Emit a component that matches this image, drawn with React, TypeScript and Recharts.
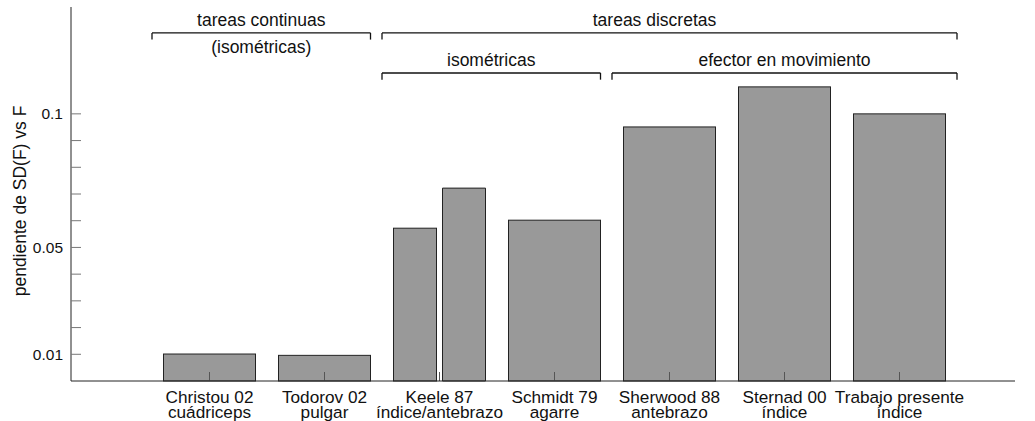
import React from 'react';
import { BarChart, Bar, XAxis, YAxis, ReferenceLine, Label } from 'recharts';

// studies compared, and the effector used in each
const studies = ['Christou 02', 'Todorov 02', 'Keele 87', 'Schmidt 79', 'Sherwood 88', 'Sternad 00', 'Trabajo presente'];
const effectors = ['cuádriceps', 'pulgar', 'índice/antebrazo', 'agarre', 'antebrazo', 'índice', 'índice'];

// slope of SD(F) vs F; Keele 87 reports two conditions
const slopeMain = [0.0101, 0.0096, 0.0572, 0.0602, 0.0951, 0.1101, 0.1];
const slopeSecond = [null, null, 0.0722, null, null, null, null];

const yTicks = [0.01, 0.02, 0.03, 0.04, 0.05, 0.06, 0.07, 0.08, 0.09, 0.1];
const yLabeled = [0.01, 0.05, 0.1];

// task groupings drawn as brackets over the bars (in category units)
const groupNames = ['tareas continuas', 'tareas discretas', 'isométricas', 'efector en movimiento'];
const groupFrom = [0, 2, 2, 4];
const groupTo = [1.9, 7, 3.9, 7];
const groupLevel = [0.1303, 0.1303, 0.1153, 0.1153];

const FONT = '"Liberation Sans", Arial, Helvetica, sans-serif';
const BAR_GAP = 6;
const DROP = 0.0025;
const TICK_PX = 9;
const PAD = { left: 81, right: 58 };
const BAR_FILL = '#999999';
const BAR_STROKE = '#222';

// single-study bars take the width of both slots; the inward category tick sits on top
const renderMainBar = (props: any) => {
  const { x, y, width, height, payload } = props;
  if (!height) return null;
  const single = payload.b == null;
  const w = single ? width * 2 + BAR_GAP : width;
  const cx = single ? x + w / 2 : x + width + BAR_GAP / 2;
  const base = y + height;
  return (
    <g>
      <rect x={x} y={y} width={w} height={height} fill={BAR_FILL} stroke={BAR_STROKE} strokeWidth={1} />
      <line x1={cx} x2={cx} y1={base} y2={base - TICK_PX} stroke="#555" strokeWidth={1} />
    </g>
  );
};

const renderCategoryTick = (props: any) => {
  const { x, y, index } = props;
  return (
    <text x={x} y={y} textAnchor="middle" fontSize={17.2} fill="#111">
      <tspan x={x} dy="0.71em">{studies[index]}</tspan>
      <tspan x={x} dy={14.8}>{effectors[index]}</tspan>
    </text>
  );
};

const renderAxisTitle = (props: any) => {
  const { viewBox } = props;
  const cx = viewBox.x + 20;
  const cy = viewBox.y + viewBox.height / 2 + 7;
  return (
    <text x={cx} y={cy} transform={`rotate(-90 ${cx} ${cy})`} textAnchor="middle" dominantBaseline="central" fontSize={17.5} fill="#111">
      pendiente de SD(F) vs F
    </text>
  );
};

export default function App() {
  const data = studies.map((study, i) => ({ study, slot: i + 0.5, a: slopeMain[i], b: slopeSecond[i] }));

  return (
    <div style={{ position: 'absolute', left: 0, top: 0, width: 1035, height: 421, fontFamily: FONT, background: '#fff' }}>
      <BarChart
        width={1035}
        height={421}
        data={data}
        margin={{ top: 7, right: 20, bottom: 6, left: 0 }}
        barCategoryGap="10%"
        barGap={BAR_GAP}
      >
        <YAxis
          domain={[0, 0.14]}
          ticks={yTicks}
          interval={0}
          width={71}
          tickSize={-10}
          tickMargin={18}
          tickFormatter={(v: number) => (yLabeled.includes(v) ? String(v) : '')}
          tick={{ fill: '#111', fontSize: 15.5 }}
          tickLine={{ stroke: '#777' }}
          axisLine={{ stroke: '#222' }}
          label={renderAxisTitle}
        />
        <Bar dataKey="a" isAnimationActive={false} shape={renderMainBar} />
        <Bar dataKey="b" isAnimationActive={false} fill={BAR_FILL} stroke={BAR_STROKE} strokeWidth={1} />
        <XAxis
          dataKey="study"
          interval={0}
          padding={PAD}
          height={34}
          tickSize={-9}
          tickMargin={19}
          tick={renderCategoryTick}
          tickLine={false}
          axisLine={{ stroke: '#222' }}
        />
        <XAxis xAxisId="ann" dataKey="slot" type="number" domain={[0, 7]} padding={PAD} hide allowDataOverflow />

        {groupNames.map((name, i) => (
          <ReferenceLine
            key={name}
            xAxisId="ann"
            segment={[
              { x: groupFrom[i], y: groupLevel[i] },
              { x: groupTo[i], y: groupLevel[i] },
            ]}
            stroke="#111"
            strokeWidth={1.3}
            ifOverflow="visible"
          >
            <Label value={name} position="top" offset={7} fontSize={17.5} fill="#111" dx={i === 1 ? -15 : 0} />
            {i === 0 && <Label value="(isométricas)" position="bottom" offset={8} fontSize={17.5} fill="#111" />}
          </ReferenceLine>
        ))}
        {groupNames.flatMap((name, i) =>
          [groupFrom[i], groupTo[i]].map((gx, k) => (
            <ReferenceLine
              key={`${name}-${k}`}
              xAxisId="ann"
              segment={[
                { x: gx, y: groupLevel[i] },
                { x: gx, y: groupLevel[i] - DROP },
              ]}
              stroke="#111"
              strokeWidth={1.3}
              ifOverflow="visible"
            />
          ))
        )}
      </BarChart>
    </div>
  );
}
